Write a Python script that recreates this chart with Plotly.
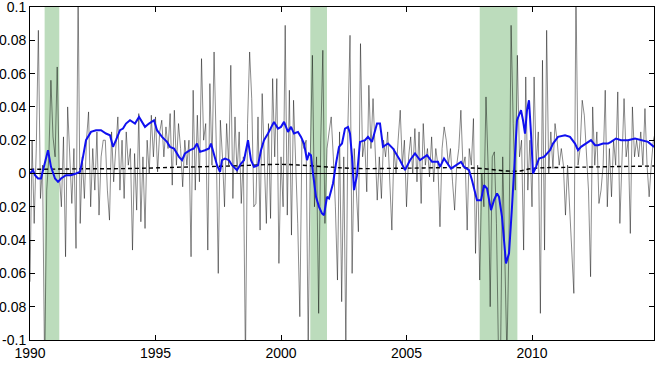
import plotly.graph_objects as go

# ---------------- data ----------------
start_year = 1990
# monthly series (in percent units, i.e. x0.01), Jan 1990 .. Dec 2014
monthly_pct = [
    -6.5, 2.0, -3.0, 1.5, 8.6, -1.5, 0.5, -12.0, -1.0, 1.0, 5.6, 2.2,      # 1990
    1.0, 6.4, 0.0, -2.0, 2.2, -5.0, 4.0, 0.5, -1.8, 1.5, -4.5, 11.0,       # 1991
    -3.0, 1.0, -1.5, 2.0, 3.7, -2.0, 1.5, -1.0, 2.5, -2.5, 1.0, 2.0,       # 1992
    2.0, -1.0, -2.8, 2.5, -0.5, 1.5, 3.4, -1.0, 2.0, -1.5, 2.5, 0.5,       # 1993
    1.5, -4.6, 1.2, -2.2, 3.6, -2.9, 1.0, -3.3, 2.0, 0.0, 3.5, 1.0,        # 1994
    3.4, 0.1, 2.5, 3.2, 1.0, 2.8, 1.5, 3.6, -0.7, 3.8, 0.5, 3.0,           # 1995
    1.5, -0.8, 2.0, 0.5, 2.0, -5.0, 5.0, -1.0, 3.5, -0.5, 6.9, 2.0,        # 1996
    3.0, -4.6, 5.4, 0.5, 7.3, 2.0, -6.0, 3.2, 1.0, -2.0, 3.0, 0.5,         # 1997
    6.5, -1.5, 3.4, 0.0, 2.5, -1.8, 1.0, -11.5, 3.0, 7.3, 4.5, -2.0,       # 1998
    -1.8, 3.4, -3.4, 4.8, 0.5, -3.0, 3.0, -2.7, 5.7, 1.0, 5.7, -5.4,       # 1999
    1.0, -2.0, 8.9, -2.5, 5.0, -3.7, 4.4, 1.0, -3.0, -8.6, 2.0, 1.5,       # 2000
    2.0, -10.5, 1.0, 7.1, -2.0, 1.0, -8.4, 2.0, 7.4, -3.0, 1.5, 2.5,       # 2001
    3.4, 1.0, -2.0, -6.4, 2.5, -7.7, 1.0, -10.5, 3.0, 8.3, -6.0, 1.5,      # 2002
    -1.0, -3.5, 7.8, 1.0, 2.0, -1.1, 5.3, 1.5, 4.5, 1.2, -1.6, 1.0,        # 2003
    -1.5, 2.0, 1.0, 2.5, 0.0, -3.4, 1.5, 0.0, 2.0, 3.8, 0.5, 2.0,          # 2004
    -2.0, 1.0, 2.2, 0.0, 2.7, -0.5, 2.5, -1.8, 3.0, 0.5, 1.5, -0.2,        # 2005
    2.2, -0.5, 1.5, 0.5, -3.2, 1.5, 2.8, 2.0, 0.5, 1.5, -0.5, -2.2,        # 2006
    0.5, 1.5, 3.8, 0.4, 1.0, -3.4, 1.5, 0.5, 3.3, -4.8, 0.5, -6.4,         # 2007
    0.0, -2.0, 4.6, 0.5, -8.0, 1.0, 1.3, -3.0, -11.0, -10.5, 1.0, -6.0,    # 2008
    -11.0, -4.0, 8.9, 3.0, -1.0, 7.1, 1.0, 2.0, -4.6, 5.8, -1.0, 2.0,      # 2009
    -2.0, 5.8, 0.5, 2.5, -8.4, 6.8, -4.6, 8.6, 0.0, 2.5, 0.3, 3.0,         # 2010
    2.0, 0.5, 1.5, 0.5, -2.5, 0.5, -2.0, -4.5, -7.2, 11.0, 0.5, 1.5,       # 2011
    4.4, 3.5, 1.0, -1.0, -6.2, 4.0, 0.5, 2.5, -1.8, -1.0, 0.5, 5.0,        # 2012
    -2.0, 1.5, -1.4, 2.0, 0.5, 4.9, -3.0, 1.5, 4.5, 1.0, 2.0, -3.6,        # 2013
    4.0, 1.0, 2.0, 1.0, 2.5, 0.5, 3.9, 0.5, -1.4, 0.5, 2.0, 2.5,           # 2014
]

# smoothed (blue) series: decimal-year offsets from 1990 and values (percent)
blue_offsets = [
    0.000, 0.120, 0.199, 0.319, 0.438, 0.598, 0.717, 0.837, 0.996, 1.116,
    1.235, 1.434, 1.633, 1.833, 1.992, 2.112, 2.231, 2.430, 2.629, 2.829,
    3.028, 3.187, 3.307, 3.426, 3.586, 3.705, 3.825, 3.984, 4.183, 4.343,
    4.462, 4.582, 4.741, 4.940, 5.060, 5.259, 5.458, 5.578, 5.737, 5.936,
    6.056, 6.175, 6.375, 6.534, 6.653, 6.773, 6.972, 7.131, 7.211, 7.331,
    7.450, 7.570, 7.649, 7.769, 7.928, 8.048, 8.247, 8.406, 8.526, 8.685,
    8.805, 8.924, 9.084, 9.203, 9.323, 9.482, 9.602, 9.721, 9.880, 10.000,
    10.120, 10.279, 10.398, 10.518, 10.677, 10.797, 10.916, 11.036, 11.116, 11.195,
    11.275, 11.394, 11.514, 11.633, 11.713, 11.833, 11.912, 12.072, 12.191, 12.311,
    12.430, 12.550, 12.669, 12.749, 12.829, 12.908, 13.028, 13.147, 13.347, 13.466,
    13.625, 13.825, 13.944, 14.064, 14.263, 14.462, 14.741, 14.940, 15.139, 15.339,
    15.538, 15.817, 16.016, 16.255, 16.335, 16.494, 16.773, 16.972, 17.171, 17.291,
    17.490, 17.610, 17.809, 17.968, 18.088, 18.207, 18.367, 18.486, 18.606, 18.685,
    18.805, 18.964, 19.084, 19.203, 19.323, 19.402, 19.482, 19.562, 19.641, 19.721,
    19.801, 19.880, 19.960, 20.040, 20.159, 20.279, 20.478, 20.717, 20.837, 21.036,
    21.315, 21.514, 21.713, 21.833, 21.952, 22.151, 22.351, 22.510, 22.629, 22.829,
    23.028, 23.147, 23.347, 23.546, 23.825, 24.104, 24.343, 24.622, 24.861,
]
blue_pct = [
    0.0, 0.2, -0.1, -0.3, -0.3, 0.6, 1.4, 0.4, -0.3, -0.5,
    -0.3, -0.1, -0.1, 0.0, 0.1, 1.0, 2.0, 2.5, 2.6, 2.6,
    2.4, 2.3, 1.6, 2.0, 2.6, 2.7, 3.0, 3.2, 3.0, 3.4,
    3.1, 2.8, 3.0, 3.2, 2.6, 2.2, 1.9, 1.6, 1.5, 1.0,
    0.8, 1.2, 1.4, 1.5, 1.8, 1.3, 1.4, 1.5, 1.8, 1.1,
    0.5, 0.1, 0.8, 0.9, 0.8, 0.5, 0.2, 0.6, 0.8, 2.0,
    0.8, 0.4, 0.5, 1.4, 2.0, 2.4, 2.8, 3.1, 2.7, 2.8,
    3.1, 2.5, 2.8, 2.4, 2.5, 2.2, 1.8, 0.8, 1.2, 1.1,
    0.0, -1.4, -2.0, -2.4, -2.5, -1.4, -1.5, -0.6, 0.6, 1.6,
    1.8, 2.7, 2.8, 2.4, 1.0, -1.0, -0.1, 1.9, 2.0, 2.2,
    1.9, 3.0, 3.0, 1.6, 1.8, 1.5, 0.8, 0.2, 0.8, 1.2,
    0.8, 1.1, 0.7, 0.7, 0.4, 0.9, 0.3, 0.5, 0.7, 0.4,
    0.2, -0.4, -1.6, -1.6, -0.7, -0.9, -2.2, -1.6, -1.2, -1.4,
    -2.6, -5.4, -4.8, -2.0, 1.4, 3.2, 3.5, 3.8, 3.2, 2.4,
    3.8, 4.4, 2.4, 0.0, 0.4, 0.9, 1.0, 1.4, 1.8, 2.2,
    2.3, 2.2, 1.8, 1.4, 1.6, 1.8, 2.0, 1.7, 1.7, 1.8,
    1.8, 1.9, 2.1, 2.0, 2.0, 2.1, 2.0, 1.9, 1.6,
]

# dashed (long-run mean) series
dash_offsets = [0.0, 2.0, 4.0, 6.0, 8.0, 10.0, 11.0, 12.0, 13.0, 15.0, 17.0, 18.0, 19.0, 19.5, 20.0, 22.0, 24.9]
dash_pct = [0.25, 0.28, 0.30, 0.38, 0.45, 0.55, 0.48, 0.38, 0.30, 0.32, 0.35, 0.30, 0.15, 0.15, 0.30, 0.38, 0.45]

# recession periods (decimal years)
recession_start = [1990.583, 2001.167, 2007.917]
recession_end = [1991.167, 2001.833, 2009.417]

x_tick_years = [1990, 1995, 2000, 2005, 2010]
y_tick_vals = [-0.1, -0.08, -0.06, -0.04, -0.02, 0, 0.02, 0.04, 0.06, 0.08, 0.1]
# labels as they appear in the reference (negative signs clipped by its left edge, except -0.1)
y_tick_text = ["-0.1", "0.08", "0.06", "0.04", "0.02", "0", "0.02", "0.04", "0.06", "0.08", "0.1"]

# ---------------- figure ----------------
mx = [start_year + i / 12 for i in range(len(monthly_pct))]
my = [v / 100 for v in monthly_pct]
bx = [start_year + o for o in blue_offsets]
by = [v / 100 for v in blue_pct]
dx = [start_year + o for o in dash_offsets]
dy = [v / 100 for v in dash_pct]

fig = go.Figure()
fig.add_trace(go.Scatter(x=mx, y=my, mode="lines",
                         line=dict(color="rgba(0,0,0,0.65)", width=0.7),
                         hoverinfo="skip", showlegend=False))
fig.add_trace(go.Scatter(x=dx, y=dy, mode="lines",
                         line=dict(color="black", width=1.4, dash="4px,3px"),
                         line_shape="spline",
                         showlegend=False))
fig.add_trace(go.Scatter(x=bx, y=by, mode="lines",
                         line=dict(color="#1010f0", width=2),
                         showlegend=False))

for s, e in zip(recession_start, recession_end):
    fig.add_vrect(x0=s, x1=e, fillcolor="rgb(188,220,188)", opacity=1,
                  line_width=0, layer="below")

font = dict(family="Liberation Sans, Arial, sans-serif", size=14, color="black")
fig.update_layout(
    width=657, height=366,
    margin=dict(l=30, r=3, t=7, b=26),
    paper_bgcolor="white", plot_bgcolor="white",
    font=font, showlegend=False,
    xaxis=dict(range=[1990, 2014.86], tickvals=x_tick_years,
               ticktext=[str(v) for v in x_tick_years],
               showgrid=False, zeroline=False, showline=True,
               linecolor="black", linewidth=1, mirror="allticks",
               ticks="inside", ticklen=5, tickcolor="black",
               automargin=False, tickfont=font, ticklabeloverflow="allow"),
    yaxis=dict(range=[-0.10001, 0.10001], tickvals=y_tick_vals, ticktext=y_tick_text,
               showgrid=False, zeroline=True, zerolinecolor="black",
               zerolinewidth=1, showline=True,
               linecolor="black", linewidth=1, mirror="allticks",
               ticks="inside", ticklen=5, tickcolor="black",
               automargin=False, tickfont=font, ticklabelstandoff=0,
               ticklabeloverflow="allow"),
)

fig.write_html("out.html")
